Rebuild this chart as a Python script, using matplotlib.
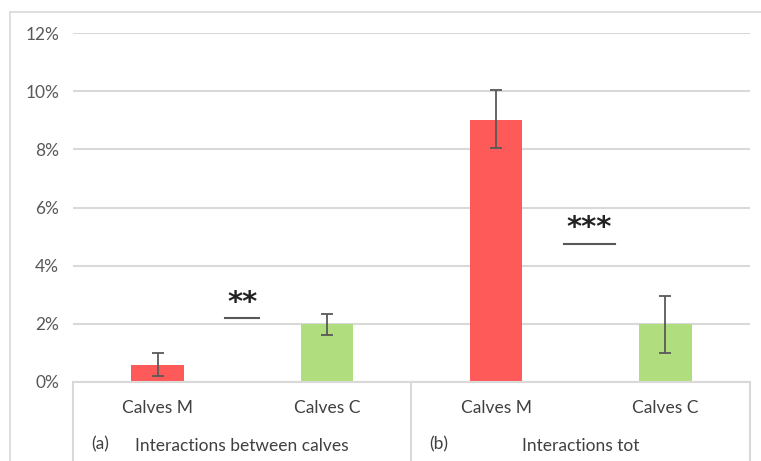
import matplotlib.pyplot as plt
from matplotlib.lines import Line2D

plt.rcParams['font.family'] = ['Lato', 'DejaVu Sans']

# data (percent)
groups = ['(a)', '(b)']
group_titles = ['Interactions between calves', 'Interactions tot']
categories = ['Calves M', 'Calves C', 'Calves M', 'Calves C']
values = [0.6, 2.0, 9.0, 2.0]
err_low = [0.4, 0.4, 0.95, 1.0]
err_high = [0.4, 0.35, 1.05, 0.95]
colors = ['#FF5A5A', '#B0DD7E', '#FF5A5A', '#B0DD7E']
sig_labels = ['**', '***']
sig_x = [0.5, 2.55]
sig_y = [2.2, 4.75]
yticks = [0, 2, 4, 6, 8, 10, 12]

fig = plt.figure(figsize=(7.61, 4.61), dpi=100)
ax = fig.add_axes([0.0959, 0.1714, 0.8896, 0.7566])

x = list(range(len(values)))
ax.bar(x, values, width=0.31, color=colors, zorder=2)
ax.errorbar(x, values, yerr=[err_low, err_high], fmt='none', ecolor='#595959',
            elinewidth=1.3, capsize=4, capthick=1.3, zorder=3)

ax.set_xlim(-0.5, 3.5)
ax.set_ylim(0, 12)
ax.set_yticks(yticks)
ax.set_yticklabels([f'{v}%' for v in yticks], color='#595959', fontsize=12.5)
ax.set_xticks([])
ax.tick_params(axis='y', length=0, pad=10)
ax.grid(axis='y', color='#d9d9d9', linewidth=1.5, zorder=0)
ax.set_axisbelow(True)
for s in ['top', 'right', 'left']:
    ax.spines[s].set_visible(False)
ax.spines['bottom'].set_color('#d9d9d9')
ax.spines['bottom'].set_linewidth(1.5)

# significance markers
for lbl, sx, sy in zip(sig_labels, sig_x, sig_y):
    half = 0.1 + 0.05 * (len(lbl) - 2)
    ax.plot([sx - half, sx + half], [sy, sy], color='#595959', linewidth=1.5,
            zorder=3)
    ax.text(sx, sy + 0.05, lbl, ha='center', va='bottom', fontsize=21,
            fontweight='bold', color='#222222', family='DejaVu Sans')

# multi-level category axis below the plot
for bx in [-0.5, 1.5, 3.5]:
    ax.add_line(Line2D([bx, bx], [0, -3], color='#d9d9d9', linewidth=1.5,
                       clip_on=False))
for xi, name in zip(x, categories):
    ax.text(xi, -0.9, name, ha='center', va='center', fontsize=12.5,
            color='#404040', clip_on=False)
for gi, (g, title) in enumerate(zip(groups, group_titles)):
    cx = 0.5 + 2 * gi
    ax.text(cx - 0.84, -2.13, g, ha='center', va='center', fontsize=12.5,
            color='#404040', clip_on=False)
    ax.text(cx, -2.2, title, ha='center', va='center', fontsize=12.5,
            color='#404040', clip_on=False)

# chart area frame
fig.add_artist(Line2D([0.013, 0.013], [0, 0.974], color='#d9d9d9',
                      linewidth=1.2, transform=fig.transFigure))
fig.add_artist(Line2D([0.013, 1.0], [0.974, 0.974], color='#d9d9d9',
                      linewidth=1.2, transform=fig.transFigure))

fig.savefig('out.png', dpi=100)
